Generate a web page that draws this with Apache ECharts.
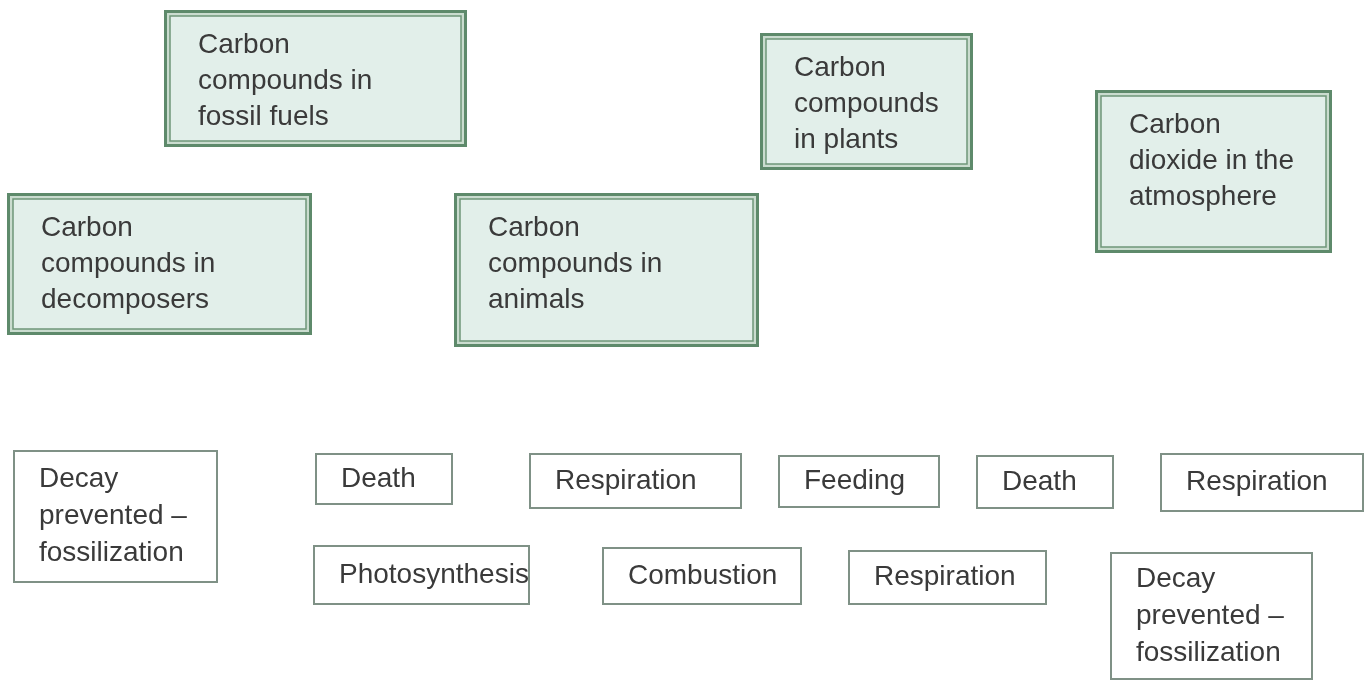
<!DOCTYPE html>
<html>
<head>
<meta charset="utf-8">
<title>Carbon cycle cards</title>
<script src="https://cdn.jsdelivr.net/npm/echarts@6/dist/echarts.min.js"></script>
<style>
  html, body { margin: 0; padding: 0; background: #fff; }
  #chart { width: 1369px; height: 681px; }
</style>
</head>
<body>
<div id="chart"></div>
<script>
// carbon stores (green cards)
const poolLabels = [
  'Carbon\ncompounds in\nfossil fuels',
  'Carbon\ncompounds\nin plants',
  'Carbon\ndioxide in the\natmosphere',
  'Carbon\ncompounds in\ndecomposers',
  'Carbon\ncompounds in\nanimals'
];
const poolLeft = [164, 760, 1095, 7, 454];
const poolTop = [10, 33, 90, 193, 193];
const poolRight = [467, 973, 1332, 312, 759];
const poolBottom = [147, 170, 253, 335, 347];

// processes (white cards)
const processLabels = [
  'Decay\nprevented –\nfossilization',
  'Death',
  'Respiration',
  'Feeding',
  'Death',
  'Respiration',
  'Photosynthesis',
  'Combustion',
  'Respiration',
  'Decay\nprevented –\nfossilization'
];
const processLeft = [13, 315, 529, 778, 976, 1160, 313, 602, 848, 1110];
const processTop = [450, 453, 453, 455, 455, 453, 545, 547, 550, 552];
const processRight = [218, 453, 742, 940, 1114, 1364, 530, 802, 1047, 1313];
const processBottom = [583, 505, 509, 508, 509, 512, 605, 605, 605, 680];

const FONT = '"Liberation Sans", Arial, sans-serif';

function boxRect(api) {
  const a = api.coord([api.value(0), api.value(1)]);
  const b = api.coord([api.value(2), api.value(3)]);
  return { x: a[0], y: a[1], w: b[0] - a[0], h: b[1] - a[1] };
}

function renderPool(params, api) {
  const r = boxRect(api);
  return {
    type: 'group',
    children: [
      {
        type: 'rect',
        shape: { x: r.x + 1.5, y: r.y + 1.5, width: r.w - 3, height: r.h - 3 },
        style: { fill: '#cadccf', stroke: '#5e8a6b', lineWidth: 3 }
      },
      {
        type: 'rect',
        shape: { x: r.x + 6, y: r.y + 6, width: r.w - 12, height: r.h - 12 },
        style: { fill: '#e2efea', stroke: '#6f9679', lineWidth: 1.5 }
      },
      {
        type: 'text',
        style: {
          text: poolLabels[params.dataIndex],
          x: r.x + 34, y: r.y + 17,
          fill: '#3a3a3a', fontSize: 28, fontFamily: FONT,
          lineHeight: 36, verticalAlign: 'top', align: 'left'
        }
      }
    ]
  };
}

function renderProcess(params, api) {
  const r = boxRect(api);
  return {
    type: 'group',
    children: [
      {
        type: 'rect',
        shape: { x: r.x + 1, y: r.y + 1, width: r.w - 2, height: r.h - 2 },
        style: { fill: '#ffffff', stroke: '#7f9186', lineWidth: 2 }
      },
      {
        type: 'text',
        style: {
          text: processLabels[params.dataIndex],
          x: r.x + 26, y: r.y + r.h / 2,
          fill: '#3a3a3a', fontSize: 28, fontFamily: FONT,
          lineHeight: 37, verticalAlign: 'middle', align: 'left'
        }
      }
    ]
  };
}

const chart = echarts.init(document.getElementById('chart'));
chart.setOption({
  animation: false,
  backgroundColor: '#ffffff',
  grid: { left: 0, right: 0, top: 0, bottom: 0 },
  xAxis: { type: 'value', min: 0, max: 1369, show: false },
  yAxis: { type: 'value', min: 0, max: 681, inverse: true, show: false },
  series: [
    {
      type: 'custom',
      name: 'Stores',
      silent: true,
      renderItem: renderPool,
      data: poolLabels.map((t, i) => [poolLeft[i], poolTop[i], poolRight[i], poolBottom[i]])
    },
    {
      type: 'custom',
      name: 'Processes',
      silent: true,
      renderItem: renderProcess,
      data: processLabels.map((t, i) => [processLeft[i], processTop[i], processRight[i], processBottom[i]])
    }
  ]
});
</script>
</body>
</html>
